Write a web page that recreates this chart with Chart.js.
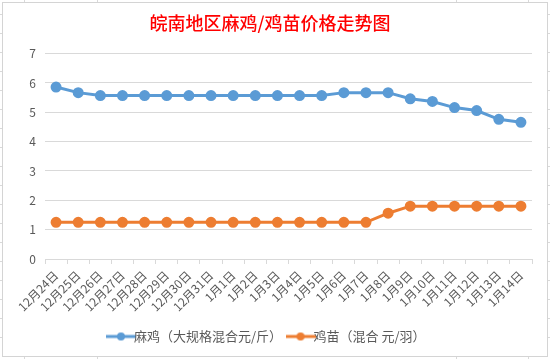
<!DOCTYPE html>
<html>
<head>
<meta charset="utf-8">
<script src="https://cdn.jsdelivr.net/npm/chart.js@4/dist/chart.umd.min.js"></script>
<style>
  html, body { margin: 0; padding: 0; background: #fff; }
  #wrap { width: 550px; height: 359px; position: relative; }
</style>
</head>
<body>
<div id="wrap"><canvas id="Chart" width="550" height="359"></canvas></div>
<script>
const days = ["12月24日", "12月25日", "12月26日", "12月27日", "12月28日", "12月29日", "12月30日", "12月31日",
    "1月1日", "1月2日", "1月3日", "1月4日", "1月5日", "1月6日", "1月7日", "1月8日", "1月9日",
    "1月10日", "1月11日", "1月12日", "1月13日", "1月14日"];
const majiPrice = [5.86, 5.67, 5.57, 5.57, 5.57, 5.57, 5.57, 5.57, 5.57, 5.57, 5.57, 5.57, 5.57,
    5.67, 5.67, 5.67, 5.46, 5.37, 5.16, 5.06, 4.76, 4.66];
const jimiaoPrice = [1.25, 1.25, 1.25, 1.25, 1.25, 1.25, 1.25, 1.25, 1.25, 1.25, 1.25, 1.25, 1.25,
    1.25, 1.25, 1.56, 1.8, 1.8, 1.8, 1.8, 1.8, 1.8];
const seriesNames = ["麻鸡（大规格混合元/斤）", "鸡苗（混合 元/羽）"];
const yTicks = [0, 1, 2, 3, 4, 5, 6, 7];

const cjk = "'Noto Sans CJK SC', 'Noto Sans', sans-serif";
const blue = "#5B9BD5";
const orange = "#ED7D31";

// legend marker: short line with a dot in the middle, like excel
function legendMarker(color) {
    let c = document.createElement("canvas");
    c.width = 30; c.height = 10;
    let g = c.getContext("2d");
    g.strokeStyle = color;
    g.lineWidth = 3;
    g.beginPath(); g.moveTo(0, 5); g.lineTo(30, 5); g.stroke();
    g.fillStyle = color;
    g.beginPath(); g.arc(15, 5, 4, 0, Math.PI * 2); g.fill();
    return c;
}

// white page, sheet gridlines peeking out, chart box border
const sheetBox = {
    id: "sheetBox",
    beforeDraw(chart) {
        const ctx = chart.ctx;
        ctx.save();
        ctx.fillStyle = "#fff";
        ctx.fillRect(0, 0, chart.width, chart.height);
        ctx.strokeStyle = "#D9D9D9";
        ctx.lineWidth = 1;
        ctx.beginPath();
        [24, 97, 456, 528].forEach(x => {
            ctx.moveTo(x + 0.5, 0); ctx.lineTo(x + 0.5, 2);
            ctx.moveTo(x + 0.5, 357); ctx.lineTo(x + 0.5, 359);
        });
        for (let y = 14; y < 356; y += 19) {
            ctx.moveTo(0, y + 0.5); ctx.lineTo(2, y + 0.5);
            ctx.moveTo(548, y + 0.5); ctx.lineTo(550, y + 0.5);
        }
        ctx.stroke();
        ctx.strokeStyle = "#D4D4D4";
        ctx.strokeRect(2.5, 2.5, 545, 354);
        ctx.restore();
    }
};

let chartElement = document.getElementById("Chart").getContext("2d");
let priceChart = new Chart(chartElement, {
    type: "line",
    data: {
        labels: days,
        datasets: [{
            label: seriesNames[0],
            data: majiPrice,
            borderColor: blue,
            backgroundColor: blue,
            borderWidth: 3,
            pointRadius: 4,
            pointHoverRadius: 4,
            pointStyle: "circle",
            tension: 0
        }, {
            label: seriesNames[1],
            data: jimiaoPrice,
            borderColor: orange,
            backgroundColor: orange,
            borderWidth: 3,
            pointRadius: 4,
            pointHoverRadius: 4,
            pointStyle: "circle",
            tension: 0
        }]
    },
    options: {
        responsive: false,
        animation: false,
        layout: { padding: { left: 8, right: 18, top: 0, bottom: 6 } },
        plugins: {
            title: {
                display: true,
                text: "皖南地区麻鸡/鸡苗价格走势图",
                color: "#FF0000",
                font: { family: cjk, size: 18, weight: "500" },
                padding: { top: 12, bottom: 20 }
            },
            legend: {
                position: "bottom",
                labels: {
                    color: "#595959",
                    font: { family: cjk, size: 13 },
                    usePointStyle: true,
                    padding: 12,
                    generateLabels(chart) {
                        return chart.data.datasets.map((ds, i) => ({
                            text: ds.label,
                            fontColor: "#595959",
                            pointStyle: legendMarker(ds.borderColor),
                            datasetIndex: i,
                            lineWidth: 0,
                            strokeStyle: ds.borderColor,
                            fillStyle: ds.borderColor
                        }));
                    }
                }
            },
            tooltip: { enabled: false }
        },
        scales: {
            x: {
                offset: true,
                grid: { drawOnChartArea: false, drawTicks: true, tickLength: 5, offset: true, color: "#D9D9D9" },
                border: { color: "#D9D9D9" },
                ticks: {
                    color: "#595959",
                    font: { family: cjk, size: 12 },
                    maxRotation: 45,
                    minRotation: 45,
                    autoSkip: false,
                    padding: 4
                }
            },
            y: {
                min: 0,
                max: 7,
                afterFit(scale) { scale.width = 37; },
                afterBuildTicks(scale) { scale.ticks = yTicks.map(v => ({ value: v })); },
                grid: { color: "#D9D9D9", drawTicks: false },
                border: { display: false },
                ticks: {
                    color: "#595959",
                    font: { family: cjk, size: 12 },
                    padding: 9
                }
            }
        }
    },
    plugins: [sheetBox]
});
</script>
</body>
</html>
